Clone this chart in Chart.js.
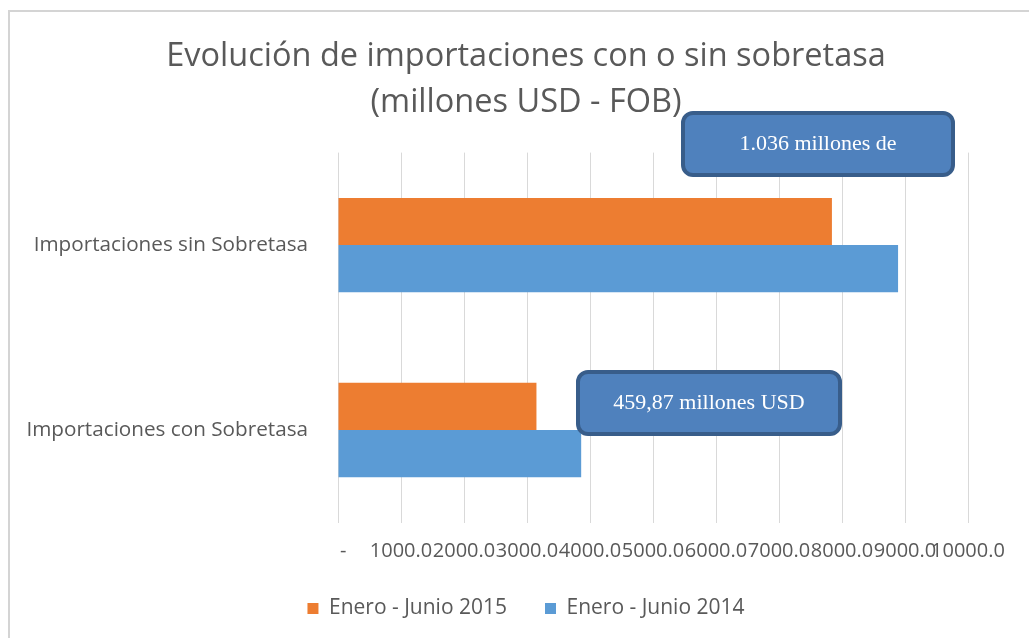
<!DOCTYPE html>
<html lang="es">
<head>
    <meta charset="UTF-8">
    <title>Importaciones</title>
    <script src="https://cdn.jsdelivr.net/npm/chart.js"></script>
    <style>
        html, body { margin: 0; padding: 0; background: #fff; }
        .frame {
            position: absolute; left: 8px; top: 10px; width: 1100px; height: 700px;
            border-top: 2px solid #d4d4d4; border-left: 2px solid #d4d4d4;
        }
        #wrap { position: absolute; left: 0; top: 0; width: 1029px; height: 638px; }
    </style>
</head>
<body>
    <div class="frame"></div>
    <div id="wrap"><canvas id="impChart" width="1029" height="638"></canvas></div>

    <script>
        const categories = ['Importaciones sin Sobretasa', 'Importaciones con Sobretasa'];
        const seriesNames = ['Enero - Junio 2015', 'Enero - Junio 2014'];
        const values2015 = [7840, 3150];
        const values2014 = [8890, 3860];
        const xTicks = [0, 1000, 2000, 3000, 4000, 5000, 6000, 7000, 8000, 9000, 10000];
        const callouts = [
            { text: '1.036 millones de', x: 681, y: 111, w: 274, h: 66 },
            { text: '459,87 millones USD', x: 576, y: 370, w: 266, h: 66 }
        ];

        const grey = '#595959';
        const font = "'Open Sans', 'Noto Sans', sans-serif";

        // rounded blue callout boxes on top of the chart
        const calloutPlugin = {
            id: 'callouts',
            afterDraw(chart) {
                const ctx = chart.ctx;
                ctx.save();
                callouts.forEach(c => {
                    ctx.beginPath();
                    ctx.roundRect(c.x + 2, c.y + 2, c.w - 4, c.h - 4, 10);
                    ctx.fillStyle = '#4f81bd';
                    ctx.fill();
                    ctx.lineWidth = 4;
                    ctx.strokeStyle = '#385d8a';
                    ctx.stroke();
                    ctx.fillStyle = '#ffffff';
                    ctx.font = "22px 'Liberation Serif', serif";
                    ctx.textAlign = 'center';
                    ctx.textBaseline = 'middle';
                    ctx.fillText(c.text, c.x + c.w / 2, c.y + c.h / 2);
                });
                ctx.restore();
            }
        };

        new Chart(document.getElementById('impChart'), {
            type: 'bar',
            data: {
                labels: categories,
                datasets: [{
                    label: seriesNames[0],
                    data: values2015,
                    backgroundColor: '#ed7d31'
                }, {
                    label: seriesNames[1],
                    data: values2014,
                    backgroundColor: '#5b9bd5'
                }]
            },
            options: {
                indexAxis: 'y',
                responsive: false,
                animation: false,
                layout: { padding: { left: 40, right: 17, top: 12, bottom: 9 } },
                datasets: { bar: { categoryPercentage: 0.51, barPercentage: 1 } },
                scales: {
                    x: {
                        min: 0,
                        max: 10000,
                        afterBuildTicks: s => { s.ticks = xTicks.map(v => ({ value: v })); },
                        afterFit: s => {
                            s.height = 37.5;
                            s.paddingRight = 61;
                            s._computeLabelArea = () => undefined;
                        },
                        grid: { color: '#d9d9d9', drawTicks: false },
                        border: { display: false },
                        ticks: {
                            autoSkip: false,
                            maxRotation: 0,
                            padding: 17,
                            color: grey,
                            font: { family: font, size: 20 },
                            callback: v => v === 0 ? '  -' : v.toFixed(1)
                        }
                    },
                    y: {
                        afterFit: s => {
                            s.width = 298;
                            s._computeLabelArea = () => undefined;
                        },
                        grid: { display: false, drawTicks: false },
                        border: { display: false },
                        ticks: { padding: 30, color: grey, font: { family: font, size: 20.7 } }
                    }
                },
                plugins: {
                    title: {
                        display: true,
                        text: ['Evolución de importaciones con o sin sobretasa', '(millones USD - FOB)'],
                        color: grey,
                        font: { family: font, size: 32.5, weight: 'normal', lineHeight: 1.44 },
                        padding: { top: 21, bottom: 26 }
                    },
                    legend: {
                        position: 'bottom',
                        labels: {
                            boxWidth: 11,
                            boxHeight: 11,
                            padding: 38,
                            color: grey,
                            font: { family: font, size: 21 }
                        }
                    },
                    tooltip: { enabled: false }
                }
            },
            plugins: [calloutPlugin]
        });
    </script>
</body>
</html>
